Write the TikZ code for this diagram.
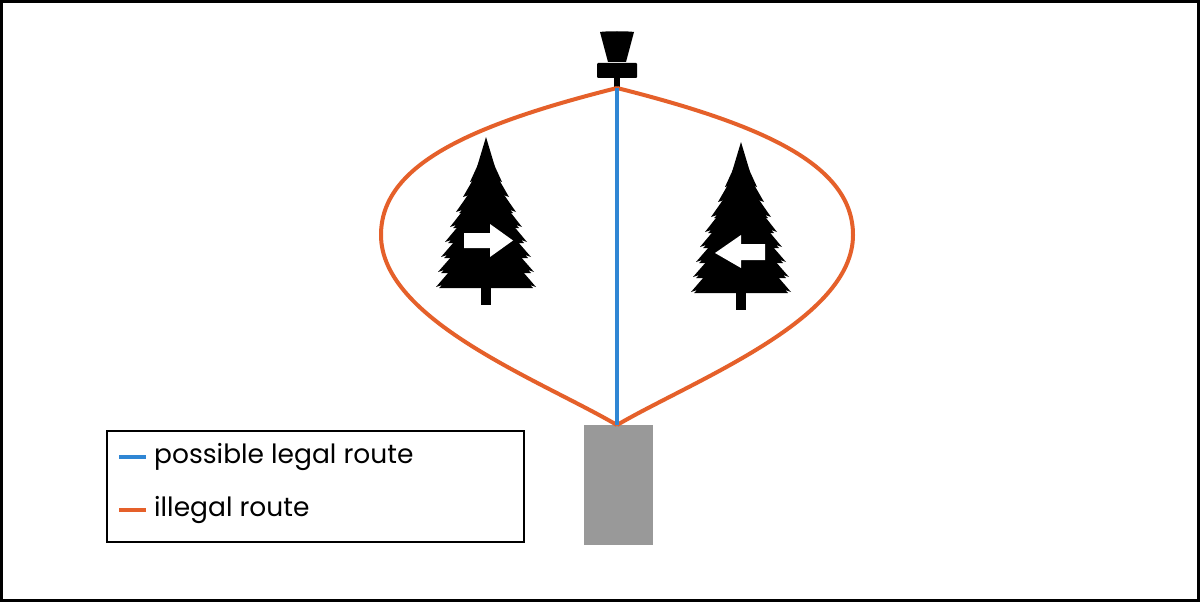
\documentclass[tikz,border=0pt]{standalone}
\usepackage{fontspec}
\setmainfont{Poppins}
\definecolor{orng}{HTML}{E5602A}
\definecolor{blu}{HTML}{2F86D4}
\begin{document}
\begin{tikzpicture}[x=1pt,y=-1pt,
  route/.style={line width=4pt},
  tree/.pic={
    \foreach \t/\b/\w in {0/30/9,10/45/16,20/60/23,32/75/30,44/90/36,56/105/41,68/120/45,80/135/48,92/150/50}
      \fill[black] (0,\t) -- (\w,\b) -- (\w-6,\b-2) -- (\w-3,\b+1)-- (-\w+3,\b+1) -- (-\w+6,\b-2) -- (-\w,\b) -- cycle;
    \fill[black] (-5,148) rectangle (5,168);
  }]
\useasboundingbox (0,0) rectangle (1200,602);
\fill[white] (0,0) rectangle (1200,602);
\draw[line width=3pt] (1.5,1.5) rectangle (1198.5,600.5);
% basket
\fill[black] (600,32) .. controls (605,31) and (629,31) .. (634,32) -- (626,62) -- (608,62) -- cycle;
\fill[black,rounded corners=1pt] (597,63) rectangle (637,78);
\fill[black] (614,77) rectangle (620,90);
\coordinate (top) at (617,88);
\node[fill=black!40,minimum width=69pt,minimum height=120pt,inner sep=0] (tee) at (618.5,485) {};
\coordinate (bot) at (617,425);
\draw[orng,route] (top) .. controls (470,125) and (381,165) .. (381,235) .. controls (381,320) and (540,380) .. (bot);
\draw[orng,route] (top) .. controls (764,125) and (853,165) .. (853,235) .. controls (853,320) and (694,380) .. (bot);
\draw[blu,route] (top) -- (bot);
% trees
\pic at (486,137) {tree};
\pic at (741,142) {tree};
\fill[white] (464,233) -- (490,233) -- (490,224) -- (513,240.5) -- (490,257) -- (490,248) -- (464,248) -- cycle;
\fill[white] (765,244) -- (741,244) -- (741,235) -- (715,253) -- (741,268) -- (741,260) -- (765,260) -- cycle;
% legend
\node[draw=black,line width=1.5pt,minimum width=417pt,minimum height=111pt,inner sep=0] (leg) at (315.5,486.5) {};
\draw[blu,route] (119,457) -- (146,457);
\draw[orng,route] (119,510) -- (146,510);
\node[anchor=west,font=\fontsize{26.5}{30}\selectfont,inner sep=0] (l1) at (154,457) {possible legal route};
\node[anchor=west,font=\fontsize{26.5}{30}\selectfont,inner sep=0] (l2) at (154,510) {illegal route};
\end{tikzpicture}
\end{document}
